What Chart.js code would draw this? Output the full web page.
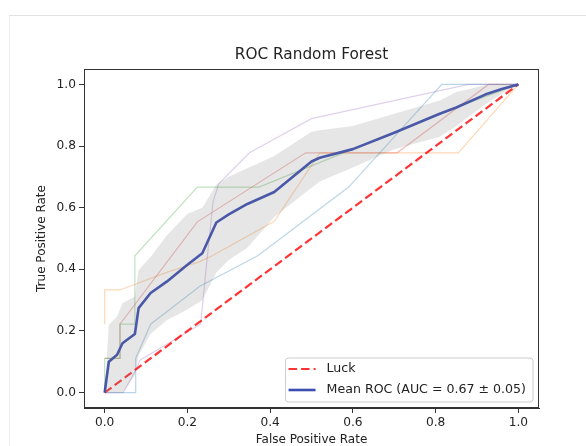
<!DOCTYPE html>
<html><head><meta charset="utf-8">
<script src="https://cdn.jsdelivr.net/npm/chart.js@4.4.1/dist/chart.umd.min.js"></script>
<style>
html,body{margin:0;padding:0;background:#fff;}
#wrap{position:relative;width:586px;height:446px;overflow:hidden;}
#frame{position:absolute;left:9px;top:15px;width:600px;height:500px;border-top:1px solid #e2e2e2;border-left:1px solid #eeeeee;}
canvas{position:absolute;left:0;top:0;}
</style></head><body>
<div id="wrap"><div id="frame"></div><canvas id="c" width="586" height="446"></canvas></div>
<script>
const titleText = "ROC Random Forest";
const xLabel = "False Positive Rate";
const yLabel = "True Positive Rate";
const tickValues = [0, 0.2, 0.4, 0.6, 0.8, 1.0];
const meanAuc = 0.67;
const stdAuc = 0.05;
const luckLabel = "Luck";

const fold1Fpr = [0, 0.075, 0.075, 0.111, 0.23, 0.37, 0.59, 0.815, 1];
const fold1Tpr = [0, 0, 0.111, 0.222, 0.345, 0.444, 0.667, 1, 1];
const fold2Fpr = [0, 0, 0.037, 0.08, 0.15, 0.23, 0.26, 0.41, 0.52, 0.855, 1];
const fold2Tpr = [0.222, 0.333, 0.333, 0.355, 0.39, 0.425, 0.444, 0.556, 0.778, 0.778, 1];
const fold3Fpr = [0, 0, 0.037, 0.037, 0.073, 0.073, 0.224, 0.373, 0.6, 0.86, 1];
const fold3Tpr = [0, 0.111, 0.111, 0.222, 0.222, 0.444, 0.667, 0.667, 0.79, 0.93, 1];
const fold4Fpr = [0, 0.037, 0.037, 0.224, 0.486, 0.707, 0.928, 1];
const fold4Tpr = [0.111, 0.111, 0.222, 0.554, 0.778, 0.778, 1, 1];
const fold5Fpr = [0, 0.045, 0.078, 0.085, 0.232, 0.245, 0.262, 0.276, 0.35, 0.5, 0.88, 1];
const fold5Tpr = [0, 0, 0.08, 0.105, 0.222, 0.4, 0.62, 0.678, 0.778, 0.889, 1, 1];

const meanFpr = [0, 0.01, 0.03, 0.043, 0.073, 0.082, 0.111, 0.15, 0.2, 0.236, 0.27, 0.3, 0.345, 0.41, 0.5, 0.52, 0.6, 0.7, 0.81, 0.85, 0.92, 0.96, 1.0];
const meanTpr = [0, 0.1, 0.123, 0.16, 0.19, 0.274, 0.323, 0.36, 0.415, 0.452, 0.552, 0.578, 0.612, 0.651, 0.75, 0.762, 0.79, 0.843, 0.905, 0.925, 0.967, 0.985, 1.0];
const upperTpr = [0, 0.22, 0.247, 0.29, 0.312, 0.398, 0.44, 0.51, 0.58, 0.6, 0.675, 0.7, 0.728, 0.768, 0.846, 0.851, 0.865, 0.905, 0.948, 0.975, 0.997, 1, 1];
const lowerTpr = [0, 0, 0, 0, 0.055, 0.12, 0.19, 0.235, 0.27, 0.3, 0.39, 0.43, 0.47, 0.57, 0.665, 0.685, 0.73, 0.79, 0.83, 0.865, 0.935, 0.97, 1.0];

const luckFpr = [0, 1];
const luckTpr = [0, 1];

const pts = (xs, ys) => xs.map((x, i) => ({x: x, y: ys[i]}));
const FONT = "'DejaVu Sans', sans-serif";
const TXT = '#222';

const folds = [
  [fold1Fpr, fold1Tpr, 'rgba(31,119,180,0.3)'],
  [fold2Fpr, fold2Tpr, 'rgba(255,127,14,0.3)'],
  [fold3Fpr, fold3Tpr, 'rgba(44,160,44,0.3)'],
  [fold4Fpr, fold4Tpr, 'rgba(214,39,40,0.3)'],
  [fold5Fpr, fold5Tpr, 'rgba(148,103,189,0.3)']
];

const meanLabel = `Mean ROC (AUC = ${meanAuc.toFixed(2)} \u00b1 ${stdAuc.toFixed(2)})`;

const datasets = [
  {label: 'upper', data: pts(meanFpr, upperTpr), borderWidth: 0, borderColor: 'rgba(0,0,0,0)', backgroundColor: 'rgba(128,128,128,0.2)', fill: '+1', pointRadius: 0, tension: 0},
  {label: 'lower', data: pts(meanFpr, lowerTpr), borderWidth: 0, borderColor: 'rgba(0,0,0,0)', fill: false, pointRadius: 0, tension: 0},
  {label: meanLabel, data: pts(meanFpr, meanTpr), borderWidth: 2.6, borderColor: 'rgb(60,78,178)', fill: false, pointRadius: 0, tension: 0, borderJoinStyle: 'round'},
  {label: luckLabel, data: pts(luckFpr, luckTpr), borderWidth: 2.2, borderColor: 'rgba(255,0,0,0.8)', borderDash: [8.5, 4], fill: false, pointRadius: 0, tension: 0}
];
folds.forEach((f, i) => datasets.push({label: 'fold ' + i, data: pts(f[0], f[1]), borderWidth: 1.2, borderColor: f[2], fill: false, pointRadius: 0, tension: 0}));

const decor = {
  id: 'decor',
  afterDraw(chart) {
    const ctx = chart.ctx, a = chart.chartArea;
    ctx.save();
    // spines
    ctx.strokeStyle = '#333';
    ctx.lineWidth = 1;
    ctx.strokeRect(Math.round(a.left) + 0.5, Math.round(a.top) + 0.5, Math.round(a.right - a.left) - 1, Math.round(a.bottom - a.top) - 1);
    // title
    ctx.fillStyle = TXT;
    ctx.font = '15.3px ' + FONT;
    ctx.textAlign = 'center';
    ctx.textBaseline = 'middle';
    ctx.fillText(titleText, (a.left + a.right) / 2, 55);
    // legend
    ctx.font = '12.6px ' + FONT;
    const tw = Math.max(ctx.measureText(meanLabel).width, ctx.measureText(luckLabel).width);
    const bw = 41 + tw + 7, bh = 44;
    const bx = a.right - 6 - bw, by = a.bottom - 6 - bh, r = 3;
    ctx.beginPath();
    ctx.moveTo(bx + r, by);
    ctx.lineTo(bx + bw - r, by); ctx.quadraticCurveTo(bx + bw, by, bx + bw, by + r);
    ctx.lineTo(bx + bw, by + bh - r); ctx.quadraticCurveTo(bx + bw, by + bh, bx + bw - r, by + bh);
    ctx.lineTo(bx + r, by + bh); ctx.quadraticCurveTo(bx, by + bh, bx, by + bh - r);
    ctx.lineTo(bx, by + r); ctx.quadraticCurveTo(bx, by, bx + r, by);
    ctx.closePath();
    ctx.fillStyle = 'rgba(255,255,255,0.8)';
    ctx.fill();
    ctx.strokeStyle = '#cccccc';
    ctx.lineWidth = 1;
    ctx.stroke();
    const rows = [[luckLabel, 'rgba(255,0,0,0.8)', [8.5, 4], 2.2], [meanLabel, 'rgb(60,78,178)', [], 2.6]];
    rows.forEach((row, i) => {
      const y = by + 11 + i * 21;
      ctx.beginPath();
      ctx.setLineDash(row[2]);
      ctx.strokeStyle = row[1];
      ctx.lineWidth = row[3];
      ctx.moveTo(bx + 3, y); ctx.lineTo(bx + 30, y);
      ctx.stroke();
      ctx.setLineDash([]);
      ctx.fillStyle = TXT;
      ctx.textAlign = 'left';
      ctx.textBaseline = 'middle';
      ctx.fillText(row[0], bx + 41, y);
    });
    ctx.restore();
  }
};

const axisCommon = (label, isX) => ({
  type: 'linear',
  min: -0.05,
  max: 1.05,
  afterBuildTicks: s => { s.ticks = tickValues.map(v => ({value: v})); },
  afterFit: s => { if (isX) s.height = 38; else s.width = 84; },
  ticks: {callback: v => Number(v).toFixed(1), font: {family: FONT, size: 12.2}, color: TXT, padding: 3, maxRotation: 0, autoSkip: false},
  grid: {drawOnChartArea: false, drawTicks: true, tickLength: 5, color: '#333', tickWidth: 1},
  border: {display: true, color: '#333', width: 1},
  title: {display: true, text: label, color: TXT, font: {family: FONT, size: 12, lineHeight: 1}, padding: isX ? {top: 0, bottom: 0} : {top: 36, bottom: 0}}
});

new Chart(document.getElementById('c'), {
  type: 'line',
  data: {datasets: datasets},
  options: {
    responsive: false,
    animation: false,
    devicePixelRatio: 1,
    layout: {padding: {top: 69, right: 47, bottom: 0, left: 0}},
    plugins: {legend: {display: false}, tooltip: {enabled: false}, title: {display: false}},
    scales: {x: axisCommon(xLabel, true), y: axisCommon(yLabel, false)}
  },
  plugins: [decor]
});
</script>
</body></html>
